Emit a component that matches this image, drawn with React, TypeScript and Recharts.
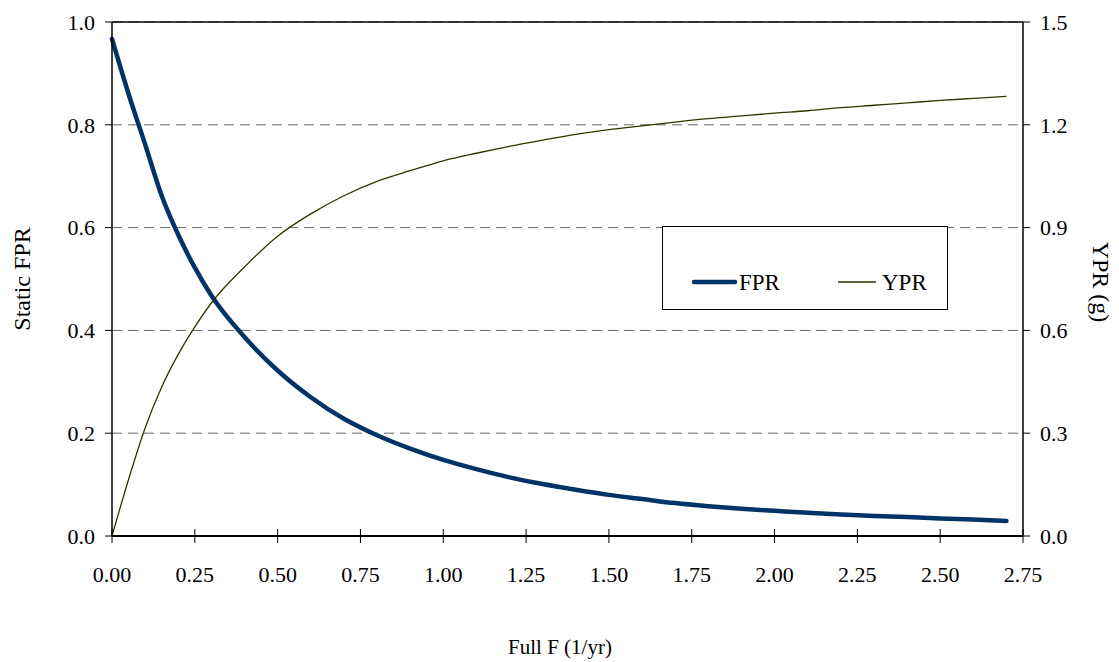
import React from 'react';
import {
    LineChart,
    Line,
    XAxis,
    YAxis,
    CartesianGrid,
    Legend,
    ReferenceLine
} from 'recharts';

// Full F (1/yr)
const fullF = [
    0, 0.05, 0.1, 0.15, 0.2, 0.25, 0.3, 0.4, 0.5, 0.6, 0.7, 0.8, 0.9, 1.0,
    1.1, 1.2, 1.3, 1.4, 1.5, 1.6, 1.7, 1.8, 1.9, 2.0, 2.1, 2.2, 2.3, 2.4, 2.5, 2.6, 2.7
];

// Static FPR (left axis)
const fprValues = [
    0.967, 0.86, 0.762, 0.662, 0.586, 0.522, 0.468, 0.387, 0.322, 0.27, 0.228, 0.196, 0.17, 0.148,
    0.13, 0.114, 0.101, 0.09, 0.08, 0.072, 0.064, 0.058, 0.053, 0.049, 0.045, 0.042, 0.039, 0.037, 0.034, 0.032, 0.029
];

// YPR (g) (right axis)
const yprValues = [
    0, 0.165, 0.315, 0.435, 0.53, 0.61, 0.68, 0.785, 0.875, 0.94, 0.993, 1.035, 1.066, 1.095,
    1.117, 1.137, 1.155, 1.172, 1.186, 1.197, 1.208, 1.218, 1.226, 1.234, 1.241, 1.25, 1.257, 1.264, 1.271, 1.277, 1.283
];

const xTicks = [0, 0.25, 0.5, 0.75, 1.0, 1.25, 1.5, 1.75, 2.0, 2.25, 2.5, 2.75];
const leftTicks = [0, 0.2, 0.4, 0.6, 0.8, 1.0];
const rightTicks = [0, 0.3, 0.6, 0.9, 1.2, 1.5];

const data = fullF.map((f, i) => ({ f, fpr: fprValues[i], ypr: yprValues[i] }));

const FONT = '"Liberation Serif", "Times New Roman", serif';
const FPR_COLOR = '#003366';
const YPR_COLOR = '#333300';

const XTick = (props: any) => {
    const { x, y, payload } = props;
    return (
        <g>
            <line x1={x} x2={x} y1={y - 7} y2={y + 7} stroke="#000" strokeWidth={1} />
            <text x={x} y={y + 46} textAnchor="middle" fontSize={22} fontFamily={FONT} fill="#000">
                {Number(payload.value).toFixed(2)}
            </text>
        </g>
    );
};

const LegendBox = () => (
    <div
        style={{
            width: 286,
            height: 84,
            boxSizing: 'border-box',
            border: '1px solid #000',
            background: '#fff'
        }}
    >
        <svg width={284} height={82}>
            <line x1={31} x2={72} y1={55} y2={55} stroke={FPR_COLOR} strokeWidth={4.5} strokeLinecap="round" />
            <text x={76} y={63} fontSize={23} fontFamily={FONT} fill="#000">FPR</text>
            <line x1={175} x2={213} y1={55} y2={55} stroke={YPR_COLOR} strokeWidth={1.3} />
            <text x={219} y={63} fontSize={23} fontFamily={FONT} fill="#000">YPR</text>
        </svg>
    </div>
);

export default function App() {
    return (
        <LineChart
            width={1111}
            height={654}
            data={data}
            margin={{ top: 14, right: 0, left: 0, bottom: 0 }}
        >
            <CartesianGrid
                yAxisId="left"
                horizontal={true}
                vertical={false}
                stroke="#666"
                strokeDasharray="10 6"
            />
            <XAxis
                dataKey="f"
                type="number"
                domain={[0, 2.75]}
                ticks={xTicks}
                height={126}
                tickLine={false}
                tickSize={0}
                tickMargin={0}
                tick={<XTick />}
                axisLine={{ stroke: '#000', strokeWidth: 2 }}
                interval={0}
            />
            <YAxis
                yAxisId="left"
                orientation="left"
                width={104}
                domain={[0, 1]}
                ticks={leftTicks}
                tickFormatter={(v: number) => v.toFixed(1)}
                tickSize={7}
                tickMargin={10}
                tickLine={{ stroke: '#000' }}
                axisLine={{ stroke: '#000', strokeWidth: 1.5 }}
                tick={{ fill: '#000', fontSize: 22, fontFamily: FONT }}
                interval={0}
            />
            <YAxis
                yAxisId="right"
                orientation="right"
                width={96}
                domain={[0, 1.5]}
                ticks={rightTicks}
                tickFormatter={(v: number) => v.toFixed(1)}
                tickSize={7}
                tickMargin={10}
                tickLine={{ stroke: '#000' }}
                axisLine={{ stroke: '#000', strokeWidth: 1.5 }}
                tick={{ fill: '#000', fontSize: 22, fontFamily: FONT }}
                interval={0}
            />
            <ReferenceLine yAxisId="left" y={1} stroke="#000" strokeWidth={1.5} />
            <Legend
                layout="horizontal"
                verticalAlign="middle"
                align="center"
                content={<LegendBox />}
                wrapperStyle={{ left: 654, top: 218, width: 286, height: 84, bottom: 'auto' }}
            />
            <Line
                yAxisId="left"
                type="monotone"
                dataKey="fpr"
                name="FPR"
                stroke={FPR_COLOR}
                strokeWidth={4.5}
                strokeLinecap="round"
                dot={false}
                isAnimationActive={false}
            />
            <Line
                yAxisId="right"
                type="monotone"
                dataKey="ypr"
                name="YPR"
                stroke={YPR_COLOR}
                strokeWidth={1.3}
                dot={false}
                isAnimationActive={false}
            />
            <text
                x={14}
                y={271}
                transform="rotate(-90 14 271)"
                textAnchor="middle"
                dominantBaseline="central"
                fontSize={24}
                fontFamily={FONT}
                fill="#000"
            >
                Static FPR
            </text>
            <text
                x={1093}
                y={274}
                transform="rotate(90 1093 274)"
                textAnchor="middle"
                dominantBaseline="central"
                fontSize={24}
                fontFamily={FONT}
                fill="#000"
            >
                YPR (g)
            </text>
            <text
                x={552}
                y={646}
                textAnchor="middle"
                fontSize={21}
                fontFamily={FONT}
                fill="#000"
            >
                Full F (1/yr)
            </text>
        </LineChart>
    );
}
